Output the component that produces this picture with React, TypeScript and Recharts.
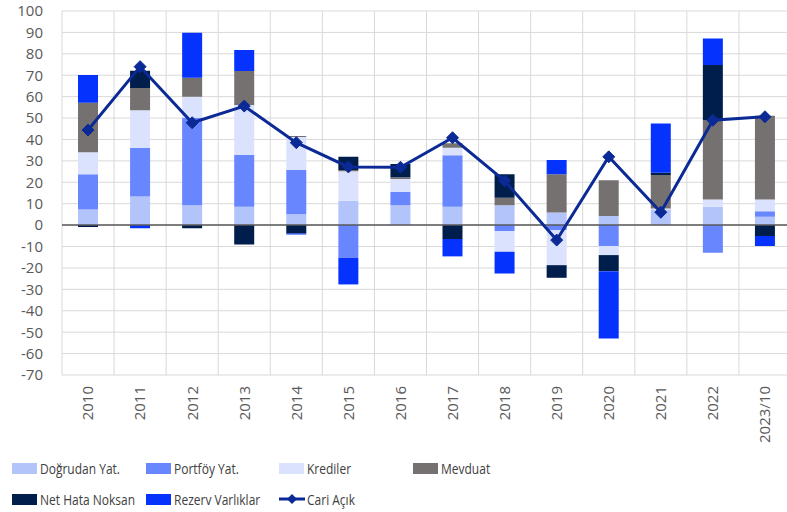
import React from 'react';
import {
  ComposedChart,
  Bar,
  Line,
  XAxis,
  YAxis,
  CartesianGrid,
  ReferenceLine,
  Legend,
} from 'recharts';

const years = ['2010', '2011', '2012', '2013', '2014', '2015', '2016', '2017', '2018', '2019', '2020', '2021', '2022', '2023/10'];
const dogrudan = [7.3, 13.4, 9.3, 8.6, 5.1, 11.4, 9.3, 8.6, 9.3, 5.9, 4.3, 7.1, 8.6, 3.9];
const portfoy = [16.5, 22.6, 40.8, 24.1, 20.6, -15.3, 6.3, 24.0, -2.8, -2.3, -9.8, 0, -12.9, 2.6];
const krediler = [10.2, 17.7, 9.9, 23.4, 15.4, 13.8, 5.9, 3.5, -9.6, -16.4, -4.2, 0.7, 3.4, 5.5];
const mevduat = [23.2, 10.3, 8.8, 15.9, 0.5, 0.5, 0.8, 2.1, 3.5, 17.8, 16.6, 15.6, 37.0, 39.1];
const netHata = [-0.9, 8.1, -1.5, -9.0, -3.9, 6.2, 6.2, -6.5, 10.9, -5.9, -7.5, 1.0, 25.8, -5.1];
const rezerv = [12.9, -1.5, 21.1, 9.8, -0.5, -12.4, 0, -8.1, -10.2, 6.7, -31.5, 23.1, 12.4, -4.7];
const cariAcik = [44.4, 74.0, 47.8, 55.6, 38.5, 27.2, 27.0, 40.8, 20.7, -7.0, 31.9, 6.0, 49.0, 50.6];
const yTicks = [100, 90, 80, 70, 60, 50, 40, 30, 20, 10, 0, -10, -20, -30, -40, -50, -60, -70];

const data = years.map((y, i) => ({
  year: y,
  dogrudan: dogrudan[i],
  portfoy: portfoy[i],
  krediler: krediler[i],
  mevduat: mevduat[i],
  netHata: netHata[i],
  rezerv: rezerv[i],
  cari: cariAcik[i],
}));

const COLORS = {
  dogrudan: '#b3c4fb',
  portfoy: '#6886fd',
  krediler: '#dbe2fd',
  mevduat: '#767171',
  netHata: '#001e4c',
  rezerv: '#0533fd',
  cari: '#0b2a96',
};

const FONT = '"Open Sans", sans-serif';

const legendItems = [
  { label: 'Doğrudan Yat.', color: COLORS.dogrudan, type: 'rect', col: 0, row: 0 },
  { label: 'Portföy Yat.', color: COLORS.portfoy, type: 'rect', col: 1, row: 0 },
  { label: 'Krediler', color: COLORS.krediler, type: 'rect', col: 2, row: 0 },
  { label: 'Mevduat', color: COLORS.mevduat, type: 'rect', col: 3, row: 0 },
  { label: 'Net Hata Noksan', color: COLORS.netHata, type: 'rect', col: 0, row: 1 },
  { label: 'Rezerv Varlıklar', color: COLORS.rezerv, type: 'rect', col: 1, row: 1 },
  { label: 'Cari Açık', color: COLORS.cari, type: 'line', col: 2, row: 1 },
];

const LegendContent = () => (
  <div style={{ position: 'relative', width: 787, height: 60, fontFamily: FONT, fontSize: 15, color: '#404040' }}>
    {legendItems.map((it) => (
      <div
        key={it.label}
        style={{
          position: 'absolute',
          left: 12 + it.col * 133.7,
          top: it.row * 31,
          height: 20,
          display: 'flex',
          alignItems: 'center',
          whiteSpace: 'nowrap',
        }}
      >
        {it.type === 'rect' ? (
          <div style={{ width: 25, height: 11, background: it.color, marginRight: 3 }} />
        ) : (
          <svg width={26} height={12} style={{ marginRight: 2 }}>
            <line x1={0} y1={6} x2={26} y2={6} stroke={it.color} strokeWidth={3} />
            <path d="M13 1 L18 6 L13 11 L8 6 Z" fill={it.color} />
          </svg>
        )}
        <span style={{ display: 'inline-block', transform: 'scaleX(0.8)', transformOrigin: 'left center' }}>{it.label}</span>
      </div>
    ))}
  </div>
);

const XTick = (props: any) => {
  const { x, y, payload } = props;
  return (
    <text
      x={x}
      y={y}
      transform={`rotate(-90, ${x}, ${y})`}
      textAnchor="end"
      dy="0.36em"
      fontFamily={FONT}
      fontSize={15}
      fill="#595959"
    >
      {payload.value}
    </text>
  );
};

const Diamond = (props: any) => {
  const { cx, cy } = props;
  if (cx == null || cy == null) return null;
  const s = 6;
  return (
    <path
      d={`M${cx} ${cy - s} L${cx + s} ${cy} L${cx} ${cy + s} L${cx - s} ${cy} Z`}
      fill={COLORS.cari}
      stroke={COLORS.cari}
      strokeWidth={1}
    />
  );
};

export default function App() {
  return (
    <div style={{ position: 'absolute', left: 0, top: 0, width: 787, height: 512, overflow: 'hidden', background: '#fff' }}>
      <ComposedChart
        width={791}
        height={512}
        data={data}
        stackOffset="sign"
        margin={{ top: 11, right: 0, bottom: 0, left: 0 }}
      >
        <CartesianGrid
          stroke="#d9d9d9"
          strokeWidth={1}
          horizontal={true}
          vertical={true}
          verticalCoordinatesGenerator={({ offset }: any) =>
            Array.from({ length: years.length + 1 }, (_, i) => offset.left + (i * offset.width) / years.length)
          }
        />
        <XAxis
          dataKey="year"
          type="category"
          height={137}
          interval={0}
          tickLine={false}
          axisLine={false}
          tickSize={0}
          tickMargin={11}
          tick={<XTick />}
        />
        <YAxis
          width={62}
          domain={[-70, 100]}
          ticks={yTicks}
          interval={0}
          tickLine={false}
          axisLine={false}
          tickSize={0}
          tickMargin={19}
          tick={{ fontFamily: FONT, fontSize: 15, fill: '#595959' }}
          allowDataOverflow={true}
        />
        <Bar dataKey="dogrudan" stackId="a" fill={COLORS.dogrudan} barSize={20} isAnimationActive={false} />
        <Bar dataKey="portfoy" stackId="a" fill={COLORS.portfoy} barSize={20} isAnimationActive={false} />
        <Bar dataKey="krediler" stackId="a" fill={COLORS.krediler} barSize={20} isAnimationActive={false} />
        <Bar dataKey="mevduat" stackId="a" fill={COLORS.mevduat} barSize={20} isAnimationActive={false} />
        <Bar dataKey="netHata" stackId="a" fill={COLORS.netHata} barSize={20} isAnimationActive={false} />
        <Bar dataKey="rezerv" stackId="a" fill={COLORS.rezerv} barSize={20} isAnimationActive={false} />
        <ReferenceLine y={0} stroke="#595959" strokeWidth={1.5} />
        <Line
          dataKey="cari"
          type="linear"
          stroke={COLORS.cari}
          strokeWidth={3}
          dot={<Diamond />}
          activeDot={false}
          isAnimationActive={false}
        />
        <Legend
          layout="horizontal"
          verticalAlign="middle"
          align="center"
          wrapperStyle={{ left: 0, top: 458, width: 787, height: 60 }}
          content={<LegendContent />}
        />
      </ComposedChart>
    </div>
  );
}
